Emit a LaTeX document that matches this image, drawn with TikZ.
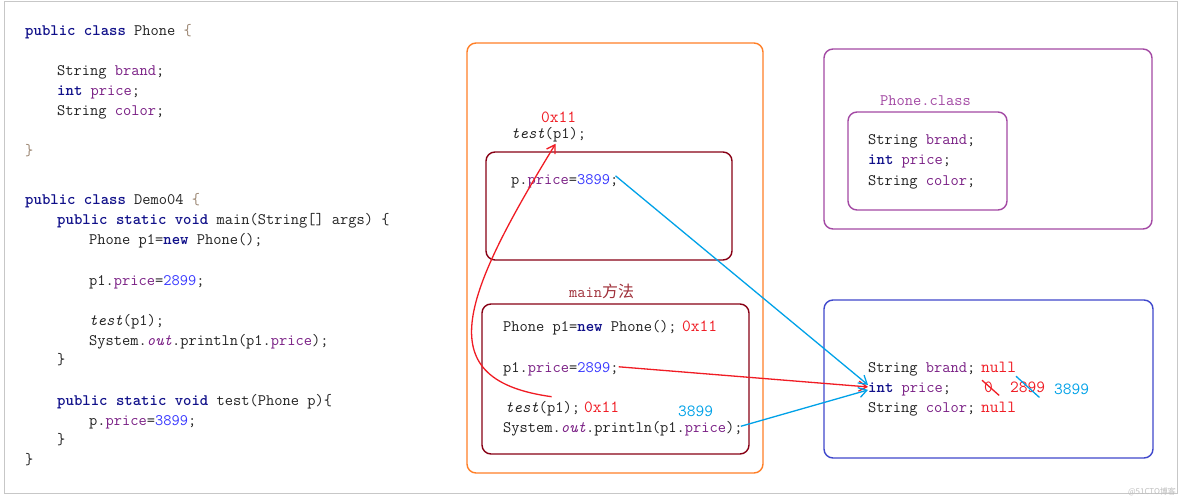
\documentclass[tikz,border=0pt]{standalone}
\usepackage{fontspec}
\newfontfamily\cjk{Noto Sans CJK SC}
\usetikzlibrary{arrows.meta}
\definecolor{kwc}{HTML}{10108A}
\definecolor{fldc}{HTML}{7A1F85}
\definecolor{nmc}{HTML}{3838FF}
\definecolor{brc}{HTML}{9A8470}
\definecolor{txtc}{HTML}{222222}
\definecolor{rdc}{HTML}{F01C24}
\definecolor{cyc}{HTML}{00A2E8}
\definecolor{orc}{HTML}{FF7F27}
\definecolor{mrc}{HTML}{880015}
\definecolor{mlc}{HTML}{A0303A}
\definecolor{ppc}{HTML}{A349A4}
\definecolor{blc}{HTML}{3F48CC}
\newcommand\kw[1]{\textcolor{kwc}{\bfseries #1}}
\newcommand\fld[1]{\textcolor{fldc}{#1}}
\newcommand\nm[1]{\textcolor{nmc}{#1}}
\newcommand\brk[1]{\textcolor{brc}{#1}}
\begin{document}
\begin{tikzpicture}[x=1pt,y=-1pt,
  code/.style={anchor=base west, inner sep=0pt, font=\fontsize{16}{19}\selectfont\ttfamily, text=txtc},
  hl/.style={code, font=\fontsize{17}{19}\selectfont\ttfamily},
  box/.style={line width=1.4pt, rounded corners=9pt},
  arr/.style={line width=1.3pt, -{Straight Barb[length=8pt,width=10pt]}},
  strike/.style={line width=1.3pt}]
\useasboundingbox (0,0) rectangle (1184,501);
\fill[white] (0,0) rectangle (1184,501);
\draw[black!22, line width=0.8pt] (4,1.5) rectangle (1177,493);

% left code
\node[code] (l1) at (25,35) {\kw{public class} Phone \brk{\{}};
\node[code] (l2) at (57,75) {String \fld{brand};};
\node[code] (l3) at (57,95) {\kw{int} \fld{price};};
\node[code] (l4) at (57,115) {String \fld{color};};
\node[code] (l5) at (25,155) {\brk{\}}};
\node[code] (l6) at (25,204) {\kw{public class} Demo04 \brk{\{}};
\node[code] (l7) at (57,224) {\kw{public static void} main(String[] args) \{};
\node[code] (l8) at (89,244) {Phone p1=\kw{new} Phone();};
\node[code] (l9) at (89,285) {p1.\fld{price}=\nm{2899};};
\node[code] (l10) at (89,325) {\textit{test}(p1);};
\node[code] (l11) at (89,345) {System.\fld{\textit{out}}.println(p1.\fld{price});};
\node[code] (l12) at (57,364) {\}};
\node[code] (l13) at (57,405) {\kw{public static void} test(Phone p)\{};
\node[code] (l14) at (89,425) {p.\fld{price}=\nm{3899};};
\node[code] (l15) at (57,444) {\}};
\node[code] (l16) at (25,464) {\}};

% boxes
\draw[box, orc] (467,43) rectangle (763,473);
\draw[box, mrc] (486,152) rectangle (732,260);
\draw[box, mrc] (482,304) rectangle (749,454);
\draw[box, ppc] (824,49) rectangle (1152,229);
\draw[box, ppc] (848,112) rectangle (1007,210);
\draw[box, blc] (824,300) rectangle (1153,458);

% middle texts
\node[hl, text=rdc] (ta) at (541,122) {0x11};
\node[code] (tcall) at (511,138) {\textit{test}(p1);};
\node[code] (pp) at (511,184) {p.\fld{price}=\nm{3899};};
\node[code, text=mlc] (mainlbl) at (569,297) {main{\cjk 方法}};
\node[code] (m1) at (503,331) {Phone p1=\kw{new} Phone();};
\node[hl, text=rdc] (m1a) at (682,331) {0x11};
\node[code] (m2) at (503,372) {p1.\fld{price}=\nm{2899};};
\node[code] (m3) at (505,412) {\textit{test}(p1);};
\node[hl, text=rdc] (m3a) at (584,412) {0x11};
\node[hl, text=cyc] (m3c) at (678,416) {3899};
\node[code] (m4) at (503,432) {System.\fld{\textit{out}}.println(p1.\fld{price});};

% right top
\node[code, text=ppc] (pcl) at (880,105) {Phone.class};
\node[code] (r1) at (868,144) {String \fld{brand};};
\node[code] (r2) at (868,164) {\kw{int} \fld{price};};
\node[code] (r3) at (868,185) {String \fld{color};};

% right bottom
\node[code] (b1) at (868,372) {String \fld{brand};};
\node[hl, text=rdc] (b1n) at (981,372) {null};
\node[code] (b2) at (868,392) {\kw{int} \fld{price};};
\node[hl, text=rdc] (z0) at (984,392) {0};
\node[hl, text=rdc] (n2899) at (1010,392) {2899};
\node[hl, text=cyc] (n3899) at (1054,394) {3899};
\node[code] (b3) at (868,412) {String \fld{color};};
\node[hl, text=rdc] (b3n) at (981,412) {null};

% strikes
\draw[strike, rdc] ([xshift=-2pt,yshift=1pt]z0.north west) -- ([xshift=6pt,yshift=-3pt]z0.south east);
\draw[strike, cyc] ([xshift=6pt,yshift=5pt]n2899.north west) -- ([xshift=-6pt,yshift=-5pt]n2899.south east);

% arrows
\draw[arr, rdc] ([xshift=9pt,yshift=4pt]m3.north) .. controls (430,380) and (460,300) .. ([xshift=7pt,yshift=-2pt]tcall.south);
\draw[arr, rdc] ([xshift=0pt,yshift=2pt]m2.east) -- ([yshift=2pt]b2.west);
\draw[arr, cyc] ([xshift=-3pt,yshift=5pt]pp.east) -- ([yshift=4pt]b2.west);
\draw[arr, cyc] ([xshift=-2pt,yshift=2pt]m4.east) -- ([yshift=-1pt]b2.west);

% watermark
\node[inner sep=0pt, text=black!25, font=\cjk\fontsize{8}{9}\selectfont] (wm) at (1152,492) {@51CTO博客};
\end{tikzpicture}
\end{document}
